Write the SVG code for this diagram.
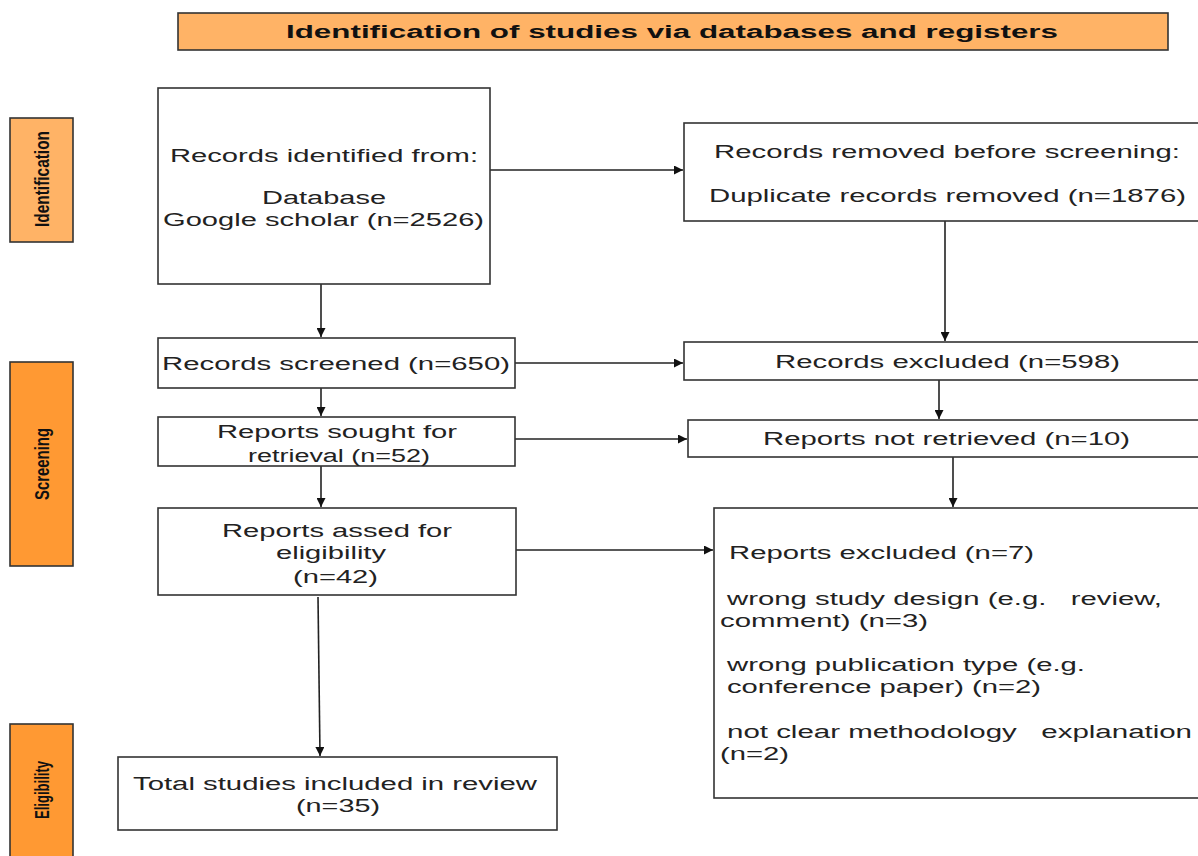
<svg xmlns="http://www.w3.org/2000/svg" width="1198" height="856" viewBox="0 0 1198 856">
<defs>
<style>
.box{fill:#fff;stroke:#333;stroke-width:1.6}
.t{font-family:"Liberation Sans",Arial,sans-serif;font-size:18px;fill:#222}
.c{text-anchor:middle}
.pre{white-space:pre}
.lab{font-family:"Liberation Sans",Arial,sans-serif;font-size:20px;font-weight:bold;fill:#111;text-anchor:middle}
.light{fill:#FFB366;stroke:#333;stroke-width:1.6}
.dark{fill:#FF9933;stroke:#333;stroke-width:1.6}
.con{stroke:#222;stroke-width:1.6;fill:none;marker-end:url(#ah)}
</style>
<marker id="ah" viewBox="0 0 10 10" refX="10" refY="5" markerWidth="9" markerHeight="9" markerUnits="userSpaceOnUse" orient="auto">
<path d="M0,0 L10,5 L0,10 z" fill="#111"/>
</marker>
</defs>
<rect width="1198" height="856" fill="#fff"/>

<g id="title">
<rect class="light" x="178" y="13" width="990" height="37"/>
<text x="672" y="38" class="c" style="font-family:'Liberation Sans',Arial,sans-serif;font-size:18px;font-weight:bold;fill:#111" textLength="772" lengthAdjust="spacingAndGlyphs">Identification of studies via databases and registers</text>
</g>

<g id="stage-identification">
<rect class="light" x="10" y="118" width="63" height="124"/>
<text class="lab" transform="translate(49,179) rotate(-90)" textLength="96" lengthAdjust="spacingAndGlyphs">Identification</text>
</g>
<g id="stage-screening">
<rect class="dark" x="10" y="362" width="63" height="204"/>
<text class="lab" transform="translate(49,464) rotate(-90)" textLength="72" lengthAdjust="spacingAndGlyphs">Screening</text>
</g>
<g id="stage-eligibility">
<rect class="dark" x="10" y="724" width="63" height="140"/>
<text class="lab" transform="translate(49,790) rotate(-90)" textLength="58" lengthAdjust="spacingAndGlyphs">Eligibility</text>
</g>

<g id="connectors">
<line class="con" x1="490" y1="170" x2="683" y2="170"/>
<line class="con" x1="321" y1="284" x2="321" y2="337"/>
<line class="con" x1="945" y1="221" x2="945" y2="341"/>
<line class="con" x1="515" y1="363" x2="683" y2="363"/>
<line class="con" x1="321" y1="388" x2="321" y2="416"/>
<line class="con" x1="939" y1="380" x2="939" y2="419"/>
<line class="con" x1="515" y1="439" x2="687" y2="439"/>
<line class="con" x1="321" y1="466" x2="321" y2="507"/>
<line class="con" x1="953" y1="457" x2="953" y2="507"/>
<line class="con" x1="516" y1="550" x2="713" y2="550"/>
<line class="con" x1="318" y1="597" x2="320" y2="756"/>
</g>

<g id="records-identified">
<rect class="box" x="158" y="88" width="332" height="196"/>
<text class="t" x="170" y="162" textLength="308" lengthAdjust="spacingAndGlyphs">Records identified from:</text>
<text class="t c" x="324" y="204" textLength="124" lengthAdjust="spacingAndGlyphs">Database</text>
<text class="t" x="163" y="226" textLength="321" lengthAdjust="spacingAndGlyphs">Google scholar (n=2526)</text>
</g>

<g id="records-removed">
<rect class="box" x="684" y="123" width="520" height="98"/>
<text class="t" x="714" y="158" textLength="466" lengthAdjust="spacingAndGlyphs">Records removed before screening:</text>
<text class="t" x="709" y="202" textLength="477" lengthAdjust="spacingAndGlyphs">Duplicate records removed (n=1876)</text>
</g>

<g id="records-screened">
<rect class="box" x="158" y="338" width="357" height="50"/>
<text class="t" x="162" y="370" textLength="348" lengthAdjust="spacingAndGlyphs">Records screened (n=650)</text>
</g>

<g id="records-excluded">
<rect class="box" x="684" y="342" width="520" height="38"/>
<text class="t" x="775" y="368" textLength="345" lengthAdjust="spacingAndGlyphs">Records excluded (n=598)</text>
</g>

<g id="reports-sought">
<rect class="box" x="158" y="417" width="357" height="49"/>
<text class="t" x="217" y="438" textLength="240" lengthAdjust="spacingAndGlyphs">Reports sought for</text>
<text class="t" x="248" y="462" textLength="182" lengthAdjust="spacingAndGlyphs">retrieval (n=52)</text>
</g>

<g id="reports-not-retrieved">
<rect class="box" x="688" y="420" width="516" height="37"/>
<text class="t" x="763" y="445" textLength="367" lengthAdjust="spacingAndGlyphs">Reports not retrieved (n=10)</text>
</g>

<g id="reports-assessed">
<rect class="box" x="158" y="508" width="358" height="87"/>
<text class="t" x="222" y="537" textLength="230" lengthAdjust="spacingAndGlyphs">Reports assed for</text>
<text class="t" x="276" y="559" textLength="110" lengthAdjust="spacingAndGlyphs">eligibility</text>
<text class="t" x="293" y="583" textLength="85" lengthAdjust="spacingAndGlyphs">(n=42)</text>
</g>

<g id="reports-excluded">
<rect class="box" x="714" y="508" width="490" height="290"/>
<text class="t" x="729" y="559" textLength="305" lengthAdjust="spacingAndGlyphs">Reports excluded (n=7)</text>
<text class="t pre" x="727" y="605" textLength="435" lengthAdjust="spacingAndGlyphs">wrong study design (e.g.   review,</text>
<text class="t" x="720" y="627" textLength="208" lengthAdjust="spacingAndGlyphs">comment) (n=3)</text>
<text class="t" x="727" y="671" textLength="358" lengthAdjust="spacingAndGlyphs">wrong publication type (e.g.</text>
<text class="t" x="727" y="693" textLength="314" lengthAdjust="spacingAndGlyphs">conference paper) (n=2)</text>
<text class="t pre" x="727" y="738" textLength="465" lengthAdjust="spacingAndGlyphs">not clear methodology   explanation</text>
<text class="t" x="720" y="760" textLength="69" lengthAdjust="spacingAndGlyphs">(n=2)</text>
</g>

<g id="total-included">
<rect class="box" x="118" y="757" width="439" height="73"/>
<text class="t" x="133" y="790" textLength="404" lengthAdjust="spacingAndGlyphs">Total studies included in review</text>
<text class="t" x="296" y="812" textLength="84" lengthAdjust="spacingAndGlyphs">(n=35)</text>
</g>
</svg>
